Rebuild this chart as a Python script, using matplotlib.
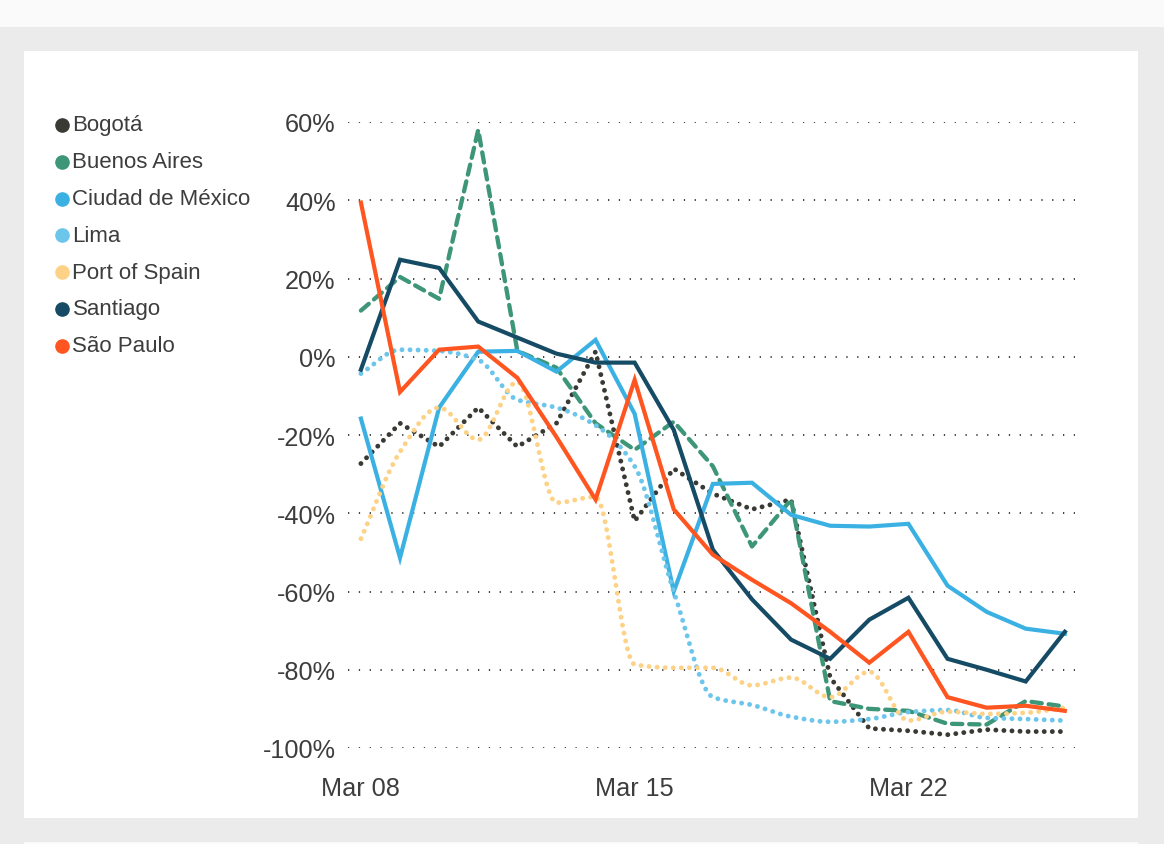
import numpy as np
import matplotlib
matplotlib.use("Agg")
import matplotlib.pyplot as plt
from matplotlib.patches import Rectangle
from matplotlib.lines import Line2D

dates = ["Mar 08", "Mar 09", "Mar 10", "Mar 11", "Mar 12", "Mar 13", "Mar 14",
         "Mar 15", "Mar 16", "Mar 17", "Mar 18", "Mar 19", "Mar 20", "Mar 21",
         "Mar 22", "Mar 23", "Mar 24", "Mar 25", "Mar 26"]
tick_labels = ["Mar 08", "Mar 15", "Mar 22"]
y_ticks = [60, 40, 20, 0, -20, -40, -60, -80, -100]

bogota = [-27.3, -17, -23, -13, -23, -17, 1.3, -42, -28.6, -35, -39, -36.5,
          -82, -95, -95.6, -96.6, -95.3, -95.8, -95.8]
buenos_aires = [11.8, 20.4, 14.8, 58, 1.5, -2.8, -17, -23.8, -16.6, -28, -48.5,
                -36.5, -88, -90, -90.5, -93.8, -94, -88, -89.4]
ciudad_mexico = [-15.8, -51.4, -13, 1.3, 1.5, -3.8, 4.3, -14.6, -60, -32.5, -32.2,
                 -40.4, -43.2, -43.4, -42.7, -58.5, -65.2, -69.5, -70.8]
lima = [-4.3, 1.8, 1.5, -0.8, -11, -13, -17.5, -28, -60, -87, -89, -92,
        -93.3, -92.6, -90.8, -90.3, -92.3, -92.6, -93]
port_of_spain = [-46.5, -24.3, -13, -21.2, -6.4, -37.3, -35.8, -78.7, -79.5, -79.5,
                 -84, -82, -87, -80.5, -93, -90.7, -91.3, -91, -89.7]
santiago = [-3.3, 24.8, 22.7, 9, 4.9, 0.8, -1.5, -1.5, -18.7, -49.3, -62, -72.3,
            -77.2, -67.2, -61.6, -77.2, -80, -83, -70.3]
sao_paulo = [39.4, -9, 1.8, 2.6, -5.4, -20.5, -36.5, -5.9, -39, -50.6, -57, -63,
             -70.3, -78.2, -70.3, -87, -89.7, -89.2, -90.5]

names = ["Bogotá", "Buenos Aires", "Ciudad de México", "Lima", "Port of Spain",
         "Santiago", "São Paulo"]
series = [bogota, buenos_aires, ciudad_mexico, lima, port_of_spain, santiago, sao_paulo]
colors = ["#3A3A35", "#3E9679", "#3BB1E3", "#6CC5EA", "#FDD286", "#164B65", "#FF5520"]
styles = ["dot", "dash", "solid", "dotsmooth", "dotsmooth", "solid", "solid"]


def monotone(x, y, n=20):
    x = np.asarray(x, float)
    y = np.asarray(y, float)
    h = np.diff(x)
    d = np.diff(y) / h
    m = np.zeros_like(y)
    m[0] = d[0]
    m[-1] = d[-1]
    for i in range(1, len(y) - 1):
        if d[i - 1] * d[i] <= 0:
            m[i] = 0
        else:
            m[i] = 3 * (h[i - 1] + h[i]) / ((2 * h[i] + h[i - 1]) / d[i - 1] + (h[i] + 2 * h[i - 1]) / d[i])
    xs, ys = [], []
    for i in range(len(h)):
        t = np.linspace(0, 1, n, endpoint=False)
        h00 = 2 * t**3 - 3 * t**2 + 1
        h10 = t**3 - 2 * t**2 + t
        h01 = -2 * t**3 + 3 * t**2
        h11 = t**3 - t**2
        xs.append(x[i] + t * h[i])
        ys.append(h00 * y[i] + h10 * h[i] * m[i] + h01 * y[i + 1] + h11 * h[i] * m[i + 1])
    xs.append([x[-1]])
    ys.append([y[-1]])
    return np.concatenate(xs), np.concatenate(ys)


W, H = 1164, 845
fig = plt.figure(figsize=(W / 100, H / 100), dpi=100, facecolor="#EBEBEB")
plt.rcParams['font.family'] = ['Liberation Sans', 'DejaVu Sans']

# background panels
fig.patches.append(Rectangle((0, 1 - 28 / H), 1, 28 / H, transform=fig.transFigure,
                             facecolor="#FAFAFA", edgecolor="none", zorder=-5))
fig.patches.append(Rectangle((24 / W, 1 - 819 / H), (1138 - 24) / W, (819 - 52) / H,
                             transform=fig.transFigure, facecolor="white",
                             edgecolor="none", zorder=-5))
fig.patches.append(Rectangle((24 / W, 0), (1138 - 24) / W, 2 / H,
                             transform=fig.transFigure, facecolor="#FAFAFA",
                             edgecolor="none", zorder=-5))

left, right, top, bottom = 348, 1075, 123, 749
ax = fig.add_axes([left / W, 1 - bottom / H, (right - left) / W, (bottom - top) / H])
ax.set_facecolor("none")
ax.set_zorder(2)

x = np.arange(len(dates))
for name, vals, col, st in zip(names, series, colors, styles):
    if st == "solid":
        ax.plot(x, vals, color=col, lw=3.0, solid_joinstyle="miter", clip_on=False, zorder=3)
    elif st == "dash":
        ax.plot(x, vals, color=col, lw=3.1, linestyle=(0, (2.4, 1.6)),
                dash_capstyle="round", clip_on=False, zorder=3)
    elif st == "dot":
        ax.plot(x, vals, color=col, lw=3.5, linestyle=(0, (0.01, 1.65)),
                dash_capstyle="round", clip_on=False, zorder=3)
    else:
        xs, ys = monotone(x, vals)
        ax.plot(xs, ys, color=col, lw=3.5, linestyle=(0, (0.01, 1.65)),
                dash_capstyle="round", clip_on=False, zorder=3)

ax.set_xlim(-0.33, 18.26)
ax.set_ylim(-100, 60)
ax.set_yticks(y_ticks)
ax.set_yticklabels([f"{v}%" for v in y_ticks])
ax.set_xticks([dates.index(t) for t in tick_labels])
ax.set_xticklabels(tick_labels)
for v in y_ticks:
    ax.axhline(v, color="#333333", lw=1.3, linestyle=(0, (0.7, 5.3)), zorder=1)
for s in ax.spines.values():
    s.set_visible(False)
ax.tick_params(axis="both", length=0, labelsize=18.2, colors="#3D3D3D")
ax.tick_params(axis="y", pad=9)
ax.tick_params(axis="x", pad=20)

# legend
for i, (name, col) in enumerate(zip(names, colors)):
    yy = 1 - (126 + i * 36.8) / H
    fig.add_artist(Line2D([62 / W], [yy], marker="o", markersize=9.5, color=col,
                          transform=fig.transFigure, linestyle="none"))
    fig.text(72.5 / W, yy, name, fontsize=16, color="#3D3D3D", va="center", ha="left")

fig.savefig("out.png", dpi=100, facecolor=fig.get_facecolor())
